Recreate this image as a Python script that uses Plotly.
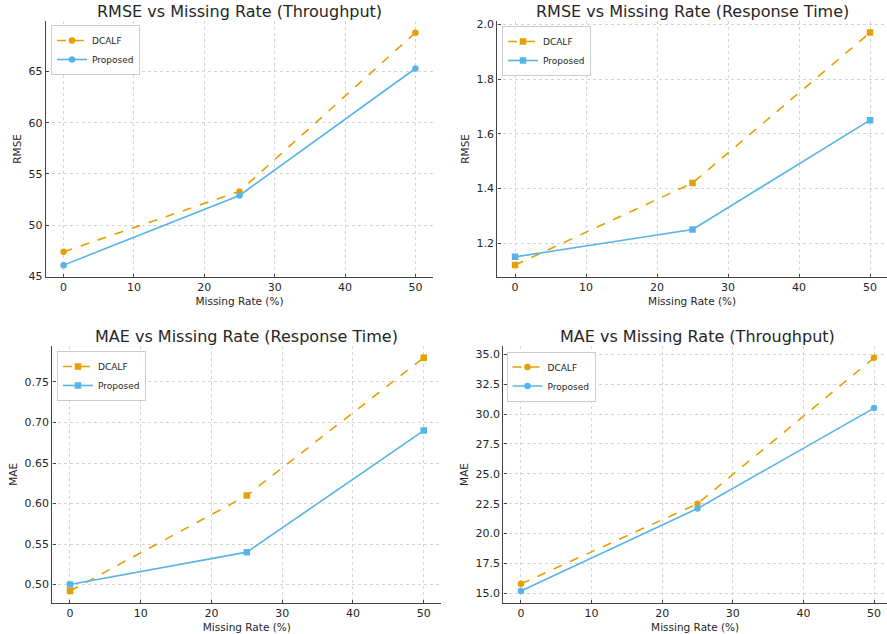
import plotly.graph_objects as go

# ---- data ----
missing_rate = [0, 25, 50]
x_ticks = [0, 10, 20, 30, 40, 50]

rmse_tp_dcalf = [47.4, 53.3, 68.8]
rmse_tp_prop = [46.1, 52.9, 65.3]
rmse_rt_dcalf = [1.12, 1.42, 1.97]
rmse_rt_prop = [1.15, 1.25, 1.65]
mae_rt_dcalf = [0.492, 0.61, 0.78]
mae_rt_prop = [0.50, 0.54, 0.69]
mae_tp_dcalf = [15.8, 22.5, 34.7]
mae_tp_prop = [15.2, 22.1, 30.5]

titles = ["RMSE vs Missing Rate (Throughput)", "RMSE vs Missing Rate (Response Time)",
          "MAE vs Missing Rate (Response Time)", "MAE vs Missing Rate (Throughput)"]
ylabels = ["RMSE", "RMSE", "MAE", "MAE"]
series_names = ["DCALF", "Proposed"]

ORANGE = "#E69F00"
BLUE = "#56B4E9"
W, H = 887, 634
FONT = "DejaVu Sans"
TXT = "#262626"

panels = [
    dict(d=rmse_tp_dcalf, p=rmse_tp_prop, sym="circle", px=(46, 433), py=(21, 276.7), tx=239.5,
         xr=[-2.5, 52.5], yr=[44.97, 69.94], yt=[45, 50, 55, 60, 65], fmt="d", leg=(51, 25)),
    dict(d=rmse_rt_dcalf, p=rmse_rt_prop, sym="square", px=(497.3, 887), py=(21, 276.7), tx=692,
         xr=[-2.5, 52.39], yr=[1.0775, 2.0125], yt=[1.2, 1.4, 1.6, 1.8, 2.0], fmt=".1f", leg=(502, 26)),
    dict(d=mae_rt_dcalf, p=mae_rt_prop, sym="square", px=(52.3, 441.4), py=(346, 602.7), tx=246.5,
         xr=[-2.5, 52.5], yr=[0.4776, 0.7944], yt=[0.50, 0.55, 0.60, 0.65, 0.70, 0.75], fmt=".2f", leg=(57, 351)),
    dict(d=mae_tp_dcalf, p=mae_tp_prop, sym="circle", px=(503.3, 887), py=(346.2, 602.7), tx=697,
         xr=[-2.5, 51.84], yr=[14.225, 35.675], yt=[15.0, 17.5, 20.0, 22.5, 25.0, 27.5, 30.0, 32.5, 35.0], fmt=".1f", leg=(506.5, 351.5)),
]

fig = go.Figure()
layout = dict(width=W, height=H, margin=dict(l=0, r=0, t=0, b=0, autoexpand=False),
              template="none",
              paper_bgcolor="white", plot_bgcolor="white",
              font=dict(family=FONT, color=TXT), annotations=[])

for i, pn in enumerate(panels, start=1):
    sfx = "" if i == 1 else str(i)
    leg = "legend" if i == 1 else f"legend{i}"
    fig.add_trace(go.Scatter(x=missing_rate, y=pn["d"], name=series_names[0], mode="lines+markers",
                             line=dict(color=ORANGE, width=1.6, dash="dash"),
                             marker=dict(symbol=pn["sym"], size=6.5, color=ORANGE),
                             xaxis="x" + sfx, yaxis="y" + sfx, legend=leg))
    fig.add_trace(go.Scatter(x=missing_rate, y=pn["p"], name=series_names[1], mode="lines+markers",
                             line=dict(color=BLUE, width=1.6),
                             marker=dict(symbol=pn["sym"], size=6.5, color=BLUE),
                             xaxis="x" + sfx, yaxis="y" + sfx, legend=leg))
    x0, x1 = pn["px"]
    ytop, ybot = pn["py"]
    common = dict(showgrid=True, gridcolor="#d4d4d4", griddash="dot", gridwidth=0.9,
                  showline=True, linecolor="#444444", linewidth=1.4, mirror=False,
                  ticks="inside", ticklen=3, tickcolor="#444444", tickwidth=1,
                  zeroline=False, automargin=False,
                  tickfont=dict(family=FONT, size=11, color=TXT))
    layout["xaxis" + sfx] = dict(domain=[x0 / W, min(x1 / W, 1)], range=pn["xr"], anchor="y" + sfx,
                                 tickvals=x_ticks,
                                 title=dict(text="Missing Rate (%)", font=dict(family=FONT, size=10.5, color=TXT), standoff=4),
                                 **common)
    layout["yaxis" + sfx] = dict(domain=[1 - ybot / H, 1 - ytop / H], range=pn["yr"], anchor="x" + sfx,
                                 tickvals=pn["yt"], tickformat=pn["fmt"],
                                 title=dict(text=ylabels[i - 1], font=dict(family=FONT, size=10.5, color=TXT), standoff=4),
                                 **common)
    layout["annotations"].append(dict(text=titles[i - 1], xref="paper", yref="paper",
                                      x=pn["tx"] / W, y=1 - (ytop - 10) / H,
                                      xanchor="center", yanchor="middle",
                                      showarrow=False, font=dict(family=FONT, size=16, color=TXT)))
    lx, ly = pn["leg"]
    layout[leg] = dict(x=lx / W, y=1 - ly / H, xanchor="left", yanchor="top",
                       bgcolor="rgba(255,255,255,0.85)", bordercolor="#cccccc", borderwidth=1,
                       font=dict(family=FONT, size=9, color=TXT), itemwidth=30,
                       tracegroupgap=0)

fig.update_layout(**layout)
fig.write_html("out.html", config={"displayModeBar": False},
               post_script="document.body.style.margin='0';document.body.style.overflow='hidden';")
